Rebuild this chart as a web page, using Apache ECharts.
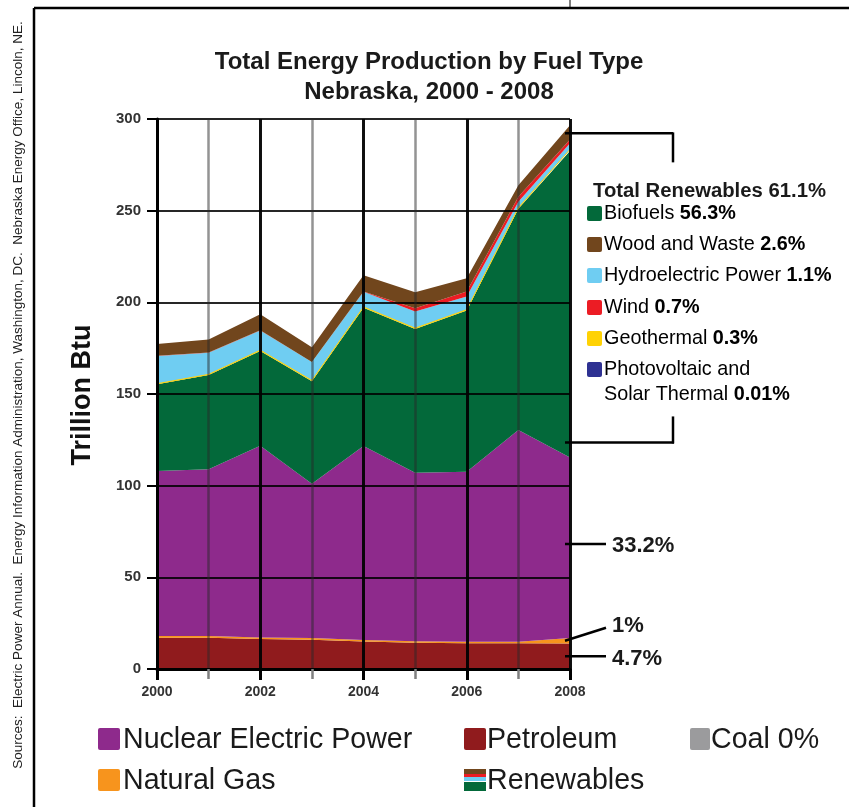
<!DOCTYPE html>
<html>
<head>
<meta charset="utf-8">
<script src="https://cdn.jsdelivr.net/npm/echarts@6/dist/echarts.min.js"></script>
<style>
  html, body { margin: 0; padding: 0; background: #fff; }
  #main { width: 849px; height: 807px; }
</style>
</head>
<body>
<div id="main"></div>
<script>
// 年份
var years = ['2000', '2001', '2002', '2003', '2004', '2005', '2006', '2007', '2008'];
// Trillion Btu (bottom to top of the stack)
var petroleum    = [17.0, 17.0, 16.3, 16.0, 15.0, 14.3, 14.0, 14.0, 13.9];
var naturalGas   = [1.0, 1.0, 0.9, 0.9, 0.8, 0.8, 0.8, 0.9, 3.0];
var nuclear      = [90.0, 91.0, 104.6, 84.1, 105.9, 91.9, 92.8, 115.5, 98.5];
var biofuels     = [47.3, 51.4, 51.7, 56.0, 75.4, 78.5, 87.9, 120.6, 167.1];
var geothermal   = [0.3, 0.3, 0.4, 0.4, 0.4, 0.4, 0.5, 0.6, 0.9];
var photovoltaic = [0.01, 0.01, 0.01, 0.01, 0.01, 0.01, 0.02, 0.02, 0.03];
var hydro        = [15.1, 11.8, 10.7, 10.0, 8.2, 9.1, 7.1, 3.3, 3.3];
var wind         = [0.1, 0.1, 0.1, 0.1, 0.2, 1.8, 2.8, 2.7, 2.1];
var wood         = [6.4, 7.1, 8.8, 8.0, 8.9, 8.7, 7.2, 6.3, 7.7];
var yTicks = [0, 50, 100, 150, 200, 250, 300];

var C = {
    nuclear: '#8e2a8c', petroleum: '#901b1d', gas: '#f7941d', coal: '#9b9b9d',
    bio: '#03693a', geo: '#ffd204', pv: '#2e3192', wind: '#ec1c24',
    hydro: '#6fcdf2', wood: '#71461d'
};
var FONT = 'Liberation Sans, Arial, sans-serif';

function area(name, data, color, extra) {
    var s = {
        name: name, type: 'line', stack: 'total', data: data,
        symbol: 'none', smooth: false, z: 2,
        lineStyle: { width: 0 },
        areaStyle: { color: color, opacity: 1 }
    };
    if (extra) s.lineStyle = extra;
    return s;
}

var myChart = echarts.init(document.getElementById('main'));
myChart.setOption({
    animation: false,
    grid: { left: 157, top: 119, width: 413, height: 550 },
    xAxis: [{
        type: 'category', data: years, boundaryGap: false, position: 'bottom', z: 5,
        axisLine: { show: true, lineStyle: { color: '#000', width: 3 } },
        axisTick: { show: true, interval: 0, length: 10, lineStyle: { color: '#808080', width: 2.5 } },
        axisLabel: { interval: 1, margin: 16, fontSize: 14, fontWeight: 'bold', color: '#333', fontFamily: FONT },
        splitLine: { show: true, interval: 0, lineStyle: { color: 'rgba(40,40,40,0.5)', width: 2.5 } }
    }, {
        type: 'category', data: years, boundaryGap: false, position: 'bottom', z: 6,
        axisLine: { show: false },
        axisTick: { show: true, interval: 1, length: 11, lineStyle: { color: '#000', width: 3 } },
        axisLabel: { show: false },
        splitLine: { show: true, interval: 1, lineStyle: { color: 'rgba(0,0,0,0.9)', width: 3 } }
    }],
    yAxis: {
        type: 'value', min: yTicks[0], max: yTicks[yTicks.length - 1], interval: 50, z: 5,
        axisLine: { show: true, lineStyle: { color: '#000', width: 3 } },
        axisTick: { show: true, length: 10, lineStyle: { color: '#000', width: 2 } },
        axisLabel: { margin: 16, fontSize: 15, fontWeight: 'bold', color: '#333', fontFamily: FONT },
        splitLine: { show: true, lineStyle: { color: 'rgba(0,0,0,0.85)', width: 2 } }
    },
    series: [
        area('Petroleum', petroleum, C.petroleum),
        area('Natural Gas', naturalGas, C.gas),
        area('Nuclear Electric Power', nuclear, C.nuclear),
        area('Biofuels', biofuels, C.bio),
        area('Geothermal', geothermal, C.geo, { width: 1, color: C.geo }),
        area('Photovoltaic and Solar Thermal', photovoltaic, C.pv),
        area('Hydroelectric Power', hydro, C.hydro),
        area('Wind', wind, C.wind),
        area('Wood and Waste', wood, C.wood)
    ]
});

// 标注线，从数据算位置
function sumTo(arrs, i) {
    var t = 0;
    arrs.forEach(function (a) { t += a[i]; });
    return t;
}
var last = years.length - 1;
function py(v) { return myChart.convertToPixel({ seriesIndex: 0 }, [last, v])[1]; }
var xEnd = myChart.convertToPixel({ seriesIndex: 0 }, [last, 0])[0];
var yTop = py(sumTo([petroleum, naturalGas, nuclear, biofuels, geothermal, photovoltaic, hydro, wind, wood], last));
var yNuc = py(sumTo([petroleum, naturalGas, nuclear], last));
var yNucMid = py(sumTo([petroleum, naturalGas], last) + nuclear[last] * 0.52);
var yGas = py(petroleum[last] + naturalGas[last] / 2);
var yPet = py(petroleum[last] / 2);

function seg(x1, y1, x2, y2, w) {
    return { type: 'line', z: 20, shape: { x1: x1, y1: y1, x2: x2, y2: y2 },
             style: { stroke: '#000', lineWidth: w || 2.5 } };
}
function txt(x, y, text, size, weight, extra) {
    var st = { text: text, x: 0, y: 0, fill: '#1a1a1a', font: (weight || 'normal') + ' ' + size + 'px ' + FONT,
               textAlign: 'left', textVerticalAlign: 'middle' };
    if (extra) for (var k in extra) st[k] = extra[k];
    return { type: 'text', x: x, y: y, z: 20, style: st };
}
function sq(x, y, w, h, color) {
    return { type: 'rect', z: 20, shape: { x: x, y: y, width: w, height: h, r: 2 }, style: { fill: color } };
}
function rich(x, y, plain, bold, size) {
    return { type: 'text', x: x, y: y, z: 20, style: {
        text: '{a|' + plain + '}' + (bold ? '{b|' + bold + '}' : ''),
        textVerticalAlign: 'middle',
        rich: {
            a: { fontSize: size, fontFamily: FONT, color: '#1a1a1a' },
            b: { fontSize: size, fontFamily: FONT, fontWeight: 'bold', color: '#1a1a1a' }
        }
    } };
}

var bx = 673;
var g = [
    // 外框
    seg(34, 8, 849, 8, 2.5), seg(34, 8, 34, 807, 2.5), seg(570, 0, 570, 8, 1),
    // 标题
    txt(429, 62, 'Total Energy Production by Fuel Type', 24, 'bold', { textAlign: 'center' }),
    txt(429, 92, 'Nebraska, 2000 - 2008', 24, 'bold', { textAlign: 'center' }),
    // y 轴名称
    { type: 'text', x: 83, y: 395, rotation: Math.PI / 2, z: 20,
      style: { text: 'Trillion Btu', font: 'bold 27px ' + FONT, fill: '#111', textAlign: 'center', textVerticalAlign: 'middle' } },
    // 来源
    { type: 'text', x: 18, y: 395, rotation: Math.PI / 2, z: 20,
      style: { text: 'Sources:  Electric Power Annual.  Energy Information Administration, Washington, DC.  Nebraska Energy Office, Lincoln, NE.',
               font: '13.5px ' + FONT, fill: '#222', textAlign: 'center', textVerticalAlign: 'middle' } },
    // 可再生括号
    seg(xEnd - 5, yTop + 8, bx, yTop + 8), seg(bx, yTop + 7, bx, yTop + 37),
    seg(bx, yNuc - 41, bx, yNuc - 14), seg(xEnd - 5, yNuc - 15, bx + 1, yNuc - 15),
    // 百分比
    seg(xEnd - 5, yNucMid, 606, yNucMid), txt(612, yNucMid + 2, '33.2%', 22, 'bold'),
    seg(xEnd - 5, yGas, 606, yGas - 13), txt(612, yGas - 15, '1%', 22, 'bold'),
    seg(xEnd - 5, yPet, 606, yPet), txt(612, yPet + 3, '4.7%', 22, 'bold'),
    // 右侧图例
    txt(593, 191, 'Total Renewables 61.1%', 20.3, 'bold'),
    sq(587, 206, 15, 15, C.bio), rich(604, 214, 'Biofuels ', '56.3%', 19.8),
    sq(587, 237, 15, 15, C.wood), rich(604, 245, 'Wood and Waste ', '2.6%', 19.8),
    sq(587, 268, 15, 15, C.hydro), rich(604, 276, 'Hydroelectric Power ', '1.1%', 19.8),
    sq(587, 300, 15, 15, C.wind), rich(604, 308, 'Wind ', '0.7%', 19.8),
    sq(587, 331, 15, 15, C.geo), rich(604, 339, 'Geothermal ', '0.3%', 19.8),
    sq(587, 362, 15, 15, C.pv), rich(604, 370, 'Photovoltaic and', '', 19.8),
    rich(604, 395, 'Solar Thermal ', '0.01%', 19.8),
    // 底部图例
    sq(98, 728, 22, 22, C.nuclear), txt(123, 740, 'Nuclear Electric Power', 28.6),
    sq(464, 728, 22, 22, C.petroleum), txt(487, 740, 'Petroleum', 28.6),
    sq(690, 728, 20, 22, C.coal), txt(711, 740, 'Coal 0%', 28.6),
    sq(98, 769, 22, 22, C.gas), txt(123, 781, 'Natural Gas', 28.6),
    { type: 'rect', z: 20, shape: { x: 464, y: 769, width: 22, height: 5 }, style: { fill: C.wood } },
    { type: 'rect', z: 20, shape: { x: 464, y: 774, width: 22, height: 3 }, style: { fill: C.wind } },
    { type: 'rect', z: 20, shape: { x: 464, y: 777, width: 22, height: 4 }, style: { fill: C.hydro } },
    { type: 'rect', z: 20, shape: { x: 464, y: 782, width: 22, height: 9 }, style: { fill: C.bio } },
    txt(487, 781, 'Renewables', 28.6)
];
myChart.setOption({ graphic: { elements: g } });
</script>
</body>
</html>
